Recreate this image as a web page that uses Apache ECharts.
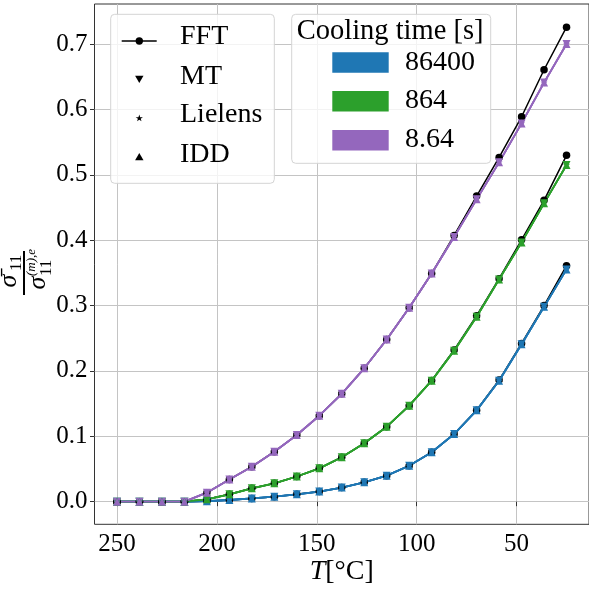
<!DOCTYPE html>
<html><head><meta charset="utf-8">
<script src="https://cdn.jsdelivr.net/npm/echarts@6/dist/echarts.min.js"></script>
<style>html,body{margin:0;padding:0;background:#fff}#c{width:589px;height:594px}</style>
</head><body><div id="c"></div>
<script>
// ---- data ----
const temperatures = [250, 238.75, 227.5, 216.25, 205, 193.75, 182.5, 171.25, 160, 148.75, 137.5, 126.25, 115, 103.75, 92.5, 81.25, 70, 58.75, 47.5, 36.25, 25];
const xTicks = [250, 200, 150, 100, 50];
const yTicks = [0, 0.1, 0.2, 0.3, 0.4, 0.5, 0.6, 0.7];
const coolingTimes = ['86400', '864', '8.64'];
const methodNames = ['FFT', 'MT', 'Lielens', 'IDD'];

// FFT reference curves
const fft86400 = [0, 0, 0, 0, 0.0008, 0.0026, 0.005, 0.0077, 0.0113, 0.0155, 0.0215, 0.0296, 0.0398, 0.055, 0.0755, 0.1035, 0.140, 0.186, 0.242, 0.300, 0.361];
const fft864   = [0, 0, 0, 0, 0.0036, 0.0113, 0.0205, 0.028, 0.0385, 0.051, 0.068, 0.0893, 0.1147, 0.1468, 0.1855, 0.232, 0.2845, 0.341, 0.4006, 0.4609, 0.5297];
const fft8_64  = [0, 0, 0, 0, 0.0138, 0.034, 0.0535, 0.0765, 0.102, 0.1315, 0.165, 0.204, 0.248, 0.2966, 0.349, 0.4073, 0.4674, 0.5266, 0.5887, 0.6606, 0.7258];
// MT / Lielens / IDD (coincide at the picture's resolution)
const mt86400 = [0, 0, 0, 0, 0.0008, 0.0026, 0.005, 0.0077, 0.0113, 0.0155, 0.0215, 0.0296, 0.0398, 0.055, 0.0755, 0.1035, 0.1397, 0.185, 0.2407, 0.298, 0.3553];
const mt864   = [0, 0, 0, 0, 0.0036, 0.0113, 0.0205, 0.028, 0.0385, 0.051, 0.068, 0.0893, 0.1147, 0.1468, 0.185, 0.231, 0.2829, 0.340, 0.3966, 0.4563, 0.515];
const mt8_64  = [0, 0, 0, 0, 0.0138, 0.034, 0.0535, 0.0765, 0.102, 0.1315, 0.165, 0.204, 0.248, 0.2966, 0.349, 0.405, 0.4624, 0.519, 0.5786, 0.641, 0.700];
const lielens86400 = [0, 0, 0, 0, 0.0008, 0.0026, 0.005, 0.0077, 0.0113, 0.0155, 0.0215, 0.0296, 0.0398, 0.055, 0.0755, 0.1035, 0.1397, 0.185, 0.2407, 0.298, 0.3553];
const lielens864   = [0, 0, 0, 0, 0.0036, 0.0113, 0.0205, 0.028, 0.0385, 0.051, 0.068, 0.0893, 0.1147, 0.1468, 0.185, 0.231, 0.2829, 0.340, 0.3966, 0.4563, 0.515];
const lielens8_64  = [0, 0, 0, 0, 0.0138, 0.034, 0.0535, 0.0765, 0.102, 0.1315, 0.165, 0.204, 0.248, 0.2966, 0.349, 0.405, 0.4624, 0.519, 0.5786, 0.641, 0.700];
const idd86400 = [0, 0, 0, 0, 0.0008, 0.0026, 0.005, 0.0077, 0.0113, 0.0155, 0.0215, 0.0296, 0.0398, 0.055, 0.0755, 0.1035, 0.1397, 0.185, 0.2407, 0.298, 0.3553];
const idd864   = [0, 0, 0, 0, 0.0036, 0.0113, 0.0205, 0.028, 0.0385, 0.051, 0.068, 0.0893, 0.1147, 0.1468, 0.185, 0.231, 0.2829, 0.340, 0.3966, 0.4563, 0.515];
const idd8_64  = [0, 0, 0, 0, 0.0138, 0.034, 0.0535, 0.0765, 0.102, 0.1315, 0.165, 0.204, 0.248, 0.2966, 0.349, 0.405, 0.4624, 0.519, 0.5786, 0.641, 0.700];

// ---- styles ----
const colors = ['#1f77b4', '#2ca02c', '#9467bd'];
const FONT = '"Liberation Serif", "Times New Roman", serif';
const STAR = 'path://M0,-10 L2.245,-3.09 L9.51,-3.09 L3.63,1.18 L5.88,8.09 L0,3.82 L-5.88,8.09 L-3.63,1.18 L-9.51,-3.09 L-2.245,-3.09 Z';
function starPoints(cx, cy, r) {
  const pts = [];
  for (let i = 0; i < 10; i++) {
    const a = -Math.PI / 2 + i * Math.PI / 5;
    const rr = i % 2 === 0 ? r : r * 0.382;
    pts.push([cx + rr * Math.cos(a), cy + rr * Math.sin(a)]);
  }
  return pts;
}

const pair = arr => temperatures.map((t, i) => [t, arr[i]]);
const series = [];
[fft86400, fft864, fft8_64].forEach(d => series.push({
  type: 'line', name: 'FFT', data: pair(d), symbol: 'circle', symbolSize: 7.5,
  itemStyle: { color: '#000' }, lineStyle: { color: '#000', width: 1.5 }, animation: false, silent: true
}));
const methodDefs = [
  { name: 'MT', sets: [mt86400, mt864, mt8_64], symbol: 'triangle', rot: 180, size: 8 },
  { name: 'Lielens', sets: [lielens86400, lielens864, lielens8_64], symbol: STAR, rot: 0, size: 7 },
  { name: 'IDD', sets: [idd86400, idd864, idd8_64], symbol: 'triangle', rot: 0, size: 8 }
];
methodDefs.forEach(m => m.sets.forEach((d, k) => series.push({
  type: 'line', name: m.name, data: pair(d), symbol: m.symbol, symbolRotate: m.rot, symbolSize: m.size,
  itemStyle: { color: colors[k] }, lineStyle: { color: colors[k], width: 1.8 }, animation: false, silent: true
})));

// ---- legends & labels as graphics ----
const L1 = { x: 110.7, y: 14.3, w: 163.6, h: 169 };
const L2 = { x: 291.7, y: 14.3, w: 199, h: 149 };
const legendText = (t, x, y, size) => ({ type: 'text', z: 101, style: { text: t, x, y, fill: '#000', font: `${size}px ${FONT}`, align: 'left', verticalAlign: 'middle' } });
const mx = 139.3;
const graphic = [
  { type: 'rect', z: 100, shape: { x: L1.x, y: L1.y, width: L1.w, height: L1.h, r: 4 }, style: { fill: 'rgba(255,255,255,0.8)', stroke: '#d4d4d4', lineWidth: 1 } },
  { type: 'line', z: 101, shape: { x1: 121.7, y1: 41, x2: 156.7, y2: 41 }, style: { stroke: '#000', lineWidth: 1.5 } },
  { type: 'circle', z: 101, shape: { cx: mx, cy: 41, r: 3.7 }, style: { fill: '#000' } },
  { type: 'polygon', z: 101, shape: { points: [[mx - 4.2, 75.7], [mx + 4.2, 75.7], [mx, 83]] }, style: { fill: '#000' } },
  { type: 'polygon', z: 101, shape: { points: starPoints(mx, 118.3, 3.8) }, style: { fill: '#000' } },
  { type: 'polygon', z: 101, shape: { points: [[mx - 4.2, 160.3], [mx + 4.2, 160.3], [mx, 153]] }, style: { fill: '#000' } },
  legendText(methodNames[0], 180, 37, 28),
  legendText(methodNames[1], 180, 76.5, 28),
  legendText(methodNames[2], 180, 115, 28),
  legendText(methodNames[3], 180, 154.5, 28),
  { type: 'rect', z: 100, shape: { x: L2.x, y: L2.y, width: L2.w, height: L2.h, r: 4 }, style: { fill: 'rgba(255,255,255,0.8)', stroke: '#d4d4d4', lineWidth: 1 } },
  legendText('Cooling time [s]', 296.7, 31.7, 28.5),
];
[52.3, 91, 130].forEach((py, k) => {
  graphic.push({ type: 'rect', z: 101, shape: { x: 332.3, y: py, width: 56.4, height: 20.4 }, style: { fill: colors[k] } });
  graphic.push(legendText(coolingTimes[k], 405, py + 10, 28));
});
// x axis title
graphic.push({ type: 'text', z: 101, style: { text: '{i|T}[°C]', x: 341.7, y: 572, align: 'center', verticalAlign: 'middle', font: `28px ${FONT}`, fill: '#000',
  rich: { i: { fontStyle: 'italic', fontFamily: FONT, fontSize: 28 } } } });
// y axis title: fraction, rotated
graphic.push({ type: 'group', x: 24, y: 273, rotation: Math.PI / 2, z: 101, children: [
  { type: 'line', shape: { x1: -22, y1: 0, x2: 22, y2: 0 }, style: { stroke: '#000', lineWidth: 2 } },
  { type: 'text', style: { text: 'σ\u0304', x: -8, y: -2, align: 'center', verticalAlign: 'bottom', font: `italic 26px ${FONT}`, fill: '#000' } },
  { type: 'text', style: { text: '11', x: 2, y: 1, align: 'left', verticalAlign: 'bottom', font: `17px ${FONT}`, fill: '#000' } },
  { type: 'text', style: { text: 'σ', x: -10, y: 1, align: 'center', verticalAlign: 'top', font: `italic 26px ${FONT}`, fill: '#000' } },
  { type: 'text', style: { text: '(m),e', x: -3, y: 1, align: 'left', verticalAlign: 'top', font: `italic 13px ${FONT}`, fill: '#000' } },
  { type: 'text', style: { text: '11', x: -3, y: 14, align: 'left', verticalAlign: 'top', font: `17px ${FONT}`, fill: '#000' } }
] });

const axisCommon = {
  axisLine: { show: false },
  axisTick: { show: true, length: 4.5, lineStyle: { color: '#333', width: 1 } },
  splitLine: { show: true, lineStyle: { color: '#c4c4c4', width: 1 } },
  axisLabel: { color: '#000', fontFamily: FONT, fontSize: 25 }
};

const chart = echarts.init(document.getElementById('c'), null, { renderer: 'canvas' });
chart.setOption({
  animation: false,
  backgroundColor: '#fff',
  grid: { left: 94.5, right: -3.8, top: 4, bottom: 69.7, show: true, borderColor: '#333', borderWidth: 1, backgroundColor: 'transparent' },
  xAxis: {
    type: 'value', inverse: true, min: 13.75, max: 261.25,
    ...axisCommon,
    axisTick: { ...axisCommon.axisTick, customValues: xTicks },
    axisLabel: { ...axisCommon.axisLabel, customValues: xTicks, margin: 8, formatter: v => String(v) }
  },
  yAxis: {
    type: 'value', min: -0.0346, max: 0.7612,
    ...axisCommon,
    axisTick: { ...axisCommon.axisTick, customValues: yTicks },
    axisLabel: { ...axisCommon.axisLabel, customValues: yTicks, margin: 7, formatter: v => v.toFixed(1) }
  },
  series,
  graphic
});
</script></body></html>
